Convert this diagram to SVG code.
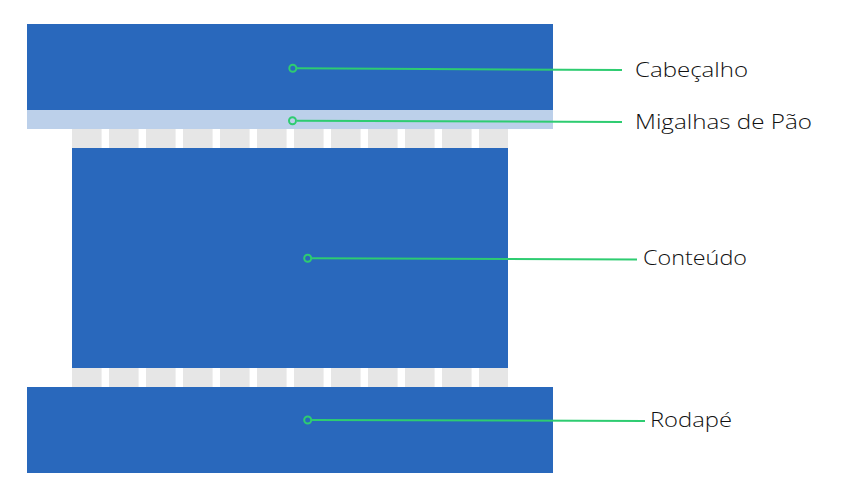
<svg xmlns="http://www.w3.org/2000/svg" width="842" height="500" viewBox="0 0 842 500">
<style>
.blk{fill:#2968bc}
.crumb{fill:#bcd0ea}
.col{fill:#e6e6e6}
.lead{stroke:#2ecc71;stroke-width:2;fill:none}
.dot{stroke:#2ecc71;stroke-width:2;fill:none}
.lbl{font-family:"Open Sans",Lato,sans-serif;font-size:21px;font-weight:300;fill:#111}
</style>
<defs>
<g id="cols">
<rect class="col" x="72" y="0" width="29.6" height="19"/>
<rect class="col" x="109" y="0" width="29.6" height="19"/>
<rect class="col" x="146" y="0" width="29.6" height="19"/>
<rect class="col" x="183" y="0" width="29.6" height="19"/>
<rect class="col" x="220" y="0" width="29.6" height="19"/>
<rect class="col" x="257" y="0" width="29.6" height="19"/>
<rect class="col" x="294" y="0" width="29.6" height="19"/>
<rect class="col" x="331" y="0" width="29.6" height="19"/>
<rect class="col" x="368" y="0" width="29.6" height="19"/>
<rect class="col" x="405" y="0" width="29.6" height="19"/>
<rect class="col" x="442" y="0" width="29.6" height="19"/>
<rect class="col" x="479" y="0" width="29" height="19"/>
</g>
</defs>
<rect width="842" height="500" fill="#fff"/>
<g id="grid-top"><use href="#cols" y="129"/></g>
<g id="grid-bottom"><use href="#cols" y="368"/></g>
<g id="header"><rect class="blk" x="27" y="24" width="526" height="86"/></g>
<g id="breadcrumb"><rect class="crumb" x="27" y="110" width="526" height="19"/></g>
<g id="content"><rect class="blk" x="72" y="148" width="436" height="220"/></g>
<g id="footer"><rect class="blk" x="27" y="387" width="526" height="86"/></g>
<g id="connectors">
<line class="lead" x1="297" y1="68.3" x2="622" y2="70"/>
<line class="lead" x1="297" y1="120.7" x2="622" y2="122"/>
<line class="lead" x1="312" y1="258.3" x2="637" y2="259.5"/>
<line class="lead" x1="312" y1="420" x2="645" y2="421"/>
<circle class="dot" cx="292.8" cy="68.3" r="3.5"/>
<circle class="dot" cx="292.5" cy="120.7" r="3.5"/>
<circle class="dot" cx="307.7" cy="258.3" r="3.5"/>
<circle class="dot" cx="307.7" cy="420" r="3.5"/>
</g>
<g id="labels">
<text class="lbl" x="635" y="77" textLength="113" lengthAdjust="spacingAndGlyphs">Cabeçalho</text>
<text class="lbl" x="635" y="129" textLength="177" lengthAdjust="spacingAndGlyphs">Migalhas de Pão</text>
<text class="lbl" x="643" y="265" textLength="104" lengthAdjust="spacingAndGlyphs">Conteúdo</text>
<text class="lbl" x="650" y="427" textLength="82" lengthAdjust="spacingAndGlyphs">Rodapé</text>
</g>
</svg>
